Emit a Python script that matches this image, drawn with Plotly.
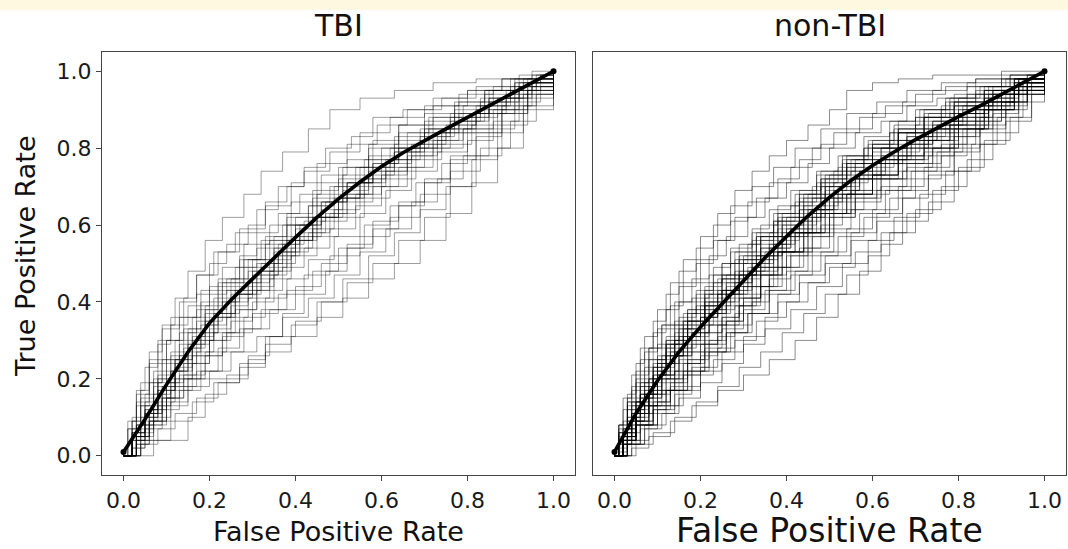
import plotly.graph_objects as go

# ---------------- data ----------------
tick_vals = [0.0, 0.2, 0.4, 0.6, 0.8, 1.0]
tick_text = ["0.0", "0.2", "0.4", "0.6", "0.8", "1.0"]
panel_titles = ["TBI", "non-TBI"]

# mean ROC curves
tbi_mean_fpr = [0, .05, .1, .15, .2, .25, .3, .35, .4, .45, .5, .55, .6, .65, .7, .75, .8, .85, .9, .95, 1]
tbi_mean_tpr = [.01, .095, .185, .27, .345, .405, .46, .515, .568, .62, .668, .712, .752, .788, .82, .85, .88, .91, .94, .97, 1]
non_mean_fpr = [0, .05, .1, .15, .2, .25, .3, .35, .4, .45, .5, .55, .6, .65, .7, .75, .8, .85, .9, .95, 1]
non_mean_tpr = [.01, .11, .195, .27, .335, .395, .455, .515, .57, .624, .672, .716, .755, .79, .822, .853, .882, .91, .94, .97, 1]

# individual ROC curves, TBI
tbi_fpr = [
    [0, .02, .04, .06, .09, .12, .15, .19, .23, .28, .32, .37, .43, .48, .55, .63, .72, .82, .92, 1],
    [0, .03, .05, .08, .10, .13, .17, .20, .24, .29, .33, .38, .42, .47, .53, .58, .65, .72, .80, .88, .95, 1],
    [0, .02, .05, .07, .11, .14, .18, .22, .27, .31, .36, .41, .46, .52, .58, .64, .70, .77, .84, .91, .97, 1],
    [0, .03, .06, .09, .12, .16, .19, .23, .28, .33, .38, .43, .48, .54, .60, .66, .72, .79, .86, .93, 1],
    [0, .02, .05, .08, .11, .15, .19, .24, .29, .34, .39, .44, .49, .55, .61, .67, .73, .80, .87, .94, 1],
    [0, .04, .07, .10, .14, .17, .21, .25, .30, .36, .41, .47, .52, .57, .63, .69, .75, .82, .89, .95, 1],
    [0, .03, .06, .09, .13, .17, .21, .26, .31, .37, .42, .48, .54, .60, .66, .72, .79, .85, .92, 1],
    [0, .02, .05, .09, .13, .18, .22, .27, .32, .38, .44, .50, .56, .62, .68, .74, .80, .86, .92, .97, 1],
    [0, .04, .08, .12, .17, .22, .27, .33, .39, .45, .51, .57, .63, .69, .75, .81, .87, .93, 1],
    [0, .03, .05, .08, .29, .33, .37, .42, .47, .52, .58, .64, .70, .76, .82, .88, .94, 1],
    [0, .02, .15, .19, .24, .29, .34, .40, .46, .52, .58, .64, .70, .76, .82, .88, .94, 1],
    [0, .07, .11, .16, .21, .27, .33, .39, .45, .51, .57, .63, .69, .75, .81, .87, .93, 1],
    [0, .01, .03, .05, .08, .11, .15, .20, .26, .31, .37, .43, .49, .55, .62, .69, .76, .83, .90, .96, 1],
    [0, .03, .07, .11, .16, .20, .25, .30, .35, .38, .44, .50, .56, .61, .67, .74, .81, .88, .94, 1],
    [0, .02, .04, .07, .10, .14, .18, .23, .28, .34, .39, .45, .51, .57, .64, .71, .78, .85, .92, 1],
    [0, .03, .06, .10, .15, .20, .25, .31, .37, .43, .49, .55, .61, .67, .73, .79, .85, .91, .96, 1],
    [0, .02, .06, .09, .12, .16, .21, .26, .31, .36, .41, .46, .52, .58, .64, .70, .76, .82, .89, .95, 1],
    [0, .02, .04, .06, .08, .11, .14, .17, .21, .26, .31, .36, .42, .48, .55, .62, .70, .78, .86, .94, 1],
    [0, .02, .04, .08, .12, .17, .23, .28, .34, .40, .46, .52, .58, .64, .70, .76, .82, .88, .94, 1],
    [0, .03, .05, .08, .12, .15, .19, .24, .29, .35, .40, .46, .51, .57, .63, .70, .77, .84, .91, .97, 1],
    [0, .01, .03, .06, .09, .13, .17, .22, .27, .33, .39, .45, .52, .59, .66, .74, .82, .90, 1],
    [0, .04, .07, .10, .13, .18, .22, .27, .32, .37, .43, .48, .54, .60, .66, .72, .78, .85, .92, 1],
    [0, .03, .06, .10, .14, .19, .24, .30, .36, .42, .48, .55, .62, .69, .76, .83, .90, .96, 1],
    [0, .02, .05, .08, .11, .15, .19, .23, .28, .33, .38, .44, .50, .56, .63, .70, .77, .85, .93, 1],
    [0, .02, .04, .07, .10, .13, .17, .21, .25, .30, .35, .40, .45, .51, .57, .63, .70, .77, .84, .91, .97, 1],
    [0, .03, .05, .08, .12, .15, .19, .23, .27, .32, .37, .42, .47, .52, .58, .64, .70, .76, .83, .90, .96, 1],
    [0, .02, .05, .09, .12, .16, .20, .25, .29, .34, .39, .44, .49, .55, .61, .67, .73, .79, .86, .93, 1],
    [0, .03, .06, .09, .13, .17, .22, .27, .32, .38, .44, .50, .57, .64, .72, .80, .88, .95, 1],
    [0, .02, .04, .06, .09, .12, .15, .18, .22, .26, .30, .35, .40, .45, .50, .56, .62, .68, .75, .82, .89, .95, 1],
    [0, .01, .03, .06, .09, .12, .16, .20, .24, .29, .34, .39, .45, .51, .57, .63, .69, .76, .83, .90, .96, 1],
    [0, .04, .07, .11, .15, .19, .23, .27, .31, .35, .40, .45, .50, .55, .60, .66, .72, .78, .85, .92, 1],
    [0, .02, .04, .07, .10, .14, .18, .22, .26, .31, .36, .41, .46, .52, .58, .64, .71, .78, .85, .92, 1],
    [0, .03, .06, .10, .14, .18, .23, .28, .33, .38, .43, .49, .55, .61, .67, .73, .80, .87, .94, 1],
    [0, .03, .07, .11, .16, .21, .26, .32, .38, .44, .51, .58, .66, .74, .82, .91, 1],
    [0, .02, .05, .08, .12, .16, .20, .25, .30, .35, .40, .46, .52, .58, .64, .70, .77, .84, .91, 1],
    [0, .02, .05, .08, .11, .15, .20, .24, .29, .34, .39, .45, .50, .56, .62, .68, .74, .81, .88, .95, 1],
]
tbi_tpr = [
    [0, .10, .19, .27, .34, .41, .48, .56, .62, .68, .74, .79, .85, .90, .93, .95, .97, .98, .99, 1],
    [0, .08, .16, .24, .30, .36, .42, .50, .55, .60, .66, .70, .75, .80, .83, .88, .90, .93, .95, .98, 1, 1],
    [0, .06, .13, .20, .26, .33, .40, .46, .52, .58, .63, .68, .73, .77, .82, .86, .89, .92, .95, .97, .99, 1],
    [0, .05, .12, .18, .25, .31, .37, .43, .49, .55, .60, .65, .70, .75, .80, .84, .88, .91, .95, .98, 1],
    [0, .04, .10, .16, .22, .28, .34, .40, .45, .51, .56, .62, .67, .71, .76, .80, .84, .88, .93, .97, 1],
    [0, .07, .12, .19, .24, .31, .36, .41, .47, .53, .58, .63, .68, .73, .77, .82, .86, .90, .94, .97, 1],
    [0, .03, .09, .15, .21, .27, .32, .38, .43, .49, .54, .59, .65, .70, .75, .80, .85, .90, .95, 1],
    [0, .02, .07, .12, .17, .22, .28, .33, .38, .43, .48, .54, .60, .65, .71, .76, .82, .87, .92, .96, 1],
    [0, .03, .07, .11, .15, .19, .24, .29, .34, .40, .46, .52, .58, .64, .70, .77, .84, .91, 1],
    [0, .06, .12, .20, .25, .31, .37, .42, .48, .54, .59, .65, .71, .77, .83, .89, .95, 1],
    [0, .04, .10, .16, .21, .26, .31, .35, .40, .45, .50, .56, .62, .70, .78, .86, .93, 1],
    [0, .04, .09, .14, .19, .23, .27, .31, .36, .41, .46, .50, .56, .63, .71, .80, .90, 1],
    [0, .09, .17, .23, .29, .34, .39, .44, .49, .54, .60, .65, .70, .75, .80, .85, .89, .93, .96, .98, 1],
    [0, .05, .10, .17, .24, .30, .35, .40, .47, .56, .62, .67, .72, .77, .81, .85, .89, .93, .97, 1],
    [0, .07, .15, .22, .30, .36, .43, .49, .55, .60, .66, .71, .75, .80, .84, .88, .92, .95, .98, 1],
    [0, .03, .08, .13, .18, .22, .27, .31, .36, .41, .47, .53, .59, .66, .72, .78, .85, .91, .96, 1],
    [0, .05, .11, .18, .25, .30, .36, .42, .47, .52, .57, .61, .66, .70, .75, .80, .86, .91, .95, .98, 1],
    [0, .09, .17, .24, .30, .36, .41, .47, .53, .58, .64, .70, .74, .79, .84, .88, .91, .94, .96, .98, 1],
    [0, .05, .10, .14, .18, .22, .27, .33, .38, .44, .50, .55, .61, .66, .72, .78, .84, .90, .95, 1],
    [0, .04, .11, .19, .25, .32, .38, .43, .48, .53, .59, .64, .69, .74, .79, .83, .87, .91, .95, .98, 1],
    [0, .07, .16, .25, .33, .40, .47, .53, .59, .65, .71, .76, .81, .86, .90, .93, .96, .98, 1],
    [0, .06, .13, .19, .26, .32, .37, .42, .48, .53, .58, .63, .68, .73, .78, .82, .87, .92, .96, 1],
    [0, .04, .09, .15, .21, .27, .32, .37, .42, .47, .52, .57, .62, .68, .74, .80, .87, .94, 1],
    [0, .06, .14, .21, .27, .33, .39, .45, .51, .57, .62, .67, .72, .77, .81, .85, .89, .93, .97, 1],
    [0, .09, .13, .18, .24, .29, .35, .41, .46, .51, .57, .62, .68, .73, .78, .83, .87, .91, .95, .98, .99, 1],
    [0, .08, .12, .17, .24, .29, .35, .40, .45, .50, .55, .61, .66, .71, .76, .80, .84, .88, .92, .96, .99, 1],
    [0, .02, .08, .15, .20, .26, .33, .39, .43, .48, .54, .59, .64, .70, .74, .78, .82, .85, .90, .94, 1],
    [0, .14, .19, .25, .32, .38, .45, .51, .56, .63, .69, .75, .81, .86, .91, .95, .98, .99, 1],
    [0, .04, .08, .11, .17, .22, .27, .32, .37, .42, .46, .52, .57, .62, .67, .72, .77, .81, .85, .89, .93, .97, 1],
    [0, .07, .13, .19, .25, .30, .36, .42, .46, .51, .56, .60, .66, .71, .75, .79, .83, .87, .91, .95, .98, 1],
    [0, .04, .09, .14, .20, .26, .32, .38, .44, .50, .56, .62, .67, .71, .75, .80, .84, .88, .92, .96, 1],
    [0, .06, .10, .16, .22, .28, .34, .40, .44, .50, .55, .60, .66, .71, .76, .80, .85, .89, .93, .97, 1],
    [0, .05, .09, .15, .20, .26, .31, .36, .41, .46, .51, .57, .63, .69, .74, .79, .84, .89, .95, 1],
    [0, .08, .15, .22, .30, .37, .43, .49, .56, .62, .68, .74, .79, .84, .89, .94, 1],
    [0, .05, .11, .17, .23, .29, .36, .42, .48, .54, .60, .66, .71, .77, .82, .86, .90, .94, .97, 1],
    [0, .05, .09, .13, .18, .24, .30, .36, .41, .46, .52, .57, .62, .67, .72, .77, .81, .86, .91, .96, 1],
]

# individual ROC curves, non-TBI
non_fpr = [
    [0, .01, .03, .05, .07, .10, .13, .16, .20, .24, .28, .32, .36, .40, .45, .50, .54, .60, .66, .74, .82, .90, 1],
    [0, .02, .04, .06, .09, .12, .15, .19, .23, .27, .31, .36, .41, .46, .51, .57, .63, .70, .77, .84, .92, 1],
    [0, .01, .03, .06, .08, .11, .14, .18, .22, .26, .31, .35, .40, .45, .50, .56, .62, .68, .75, .82, .90, .96, 1],
    [0, .02, .04, .07, .10, .13, .17, .21, .25, .29, .34, .38, .43, .48, .53, .59, .65, .71, .78, .85, .92, 1],
    [0, .02, .05, .07, .10, .14, .17, .21, .25, .30, .34, .39, .44, .49, .54, .60, .66, .72, .79, .86, .93, 1],
    [0, .03, .05, .08, .11, .15, .19, .23, .27, .32, .37, .42, .47, .52, .57, .63, .69, .75, .81, .88, .94, 1],
    [0, .01, .04, .06, .09, .12, .16, .20, .24, .28, .33, .38, .43, .48, .53, .59, .65, .71, .77, .84, .91, .97, 1],
    [0, .02, .05, .08, .12, .16, .20, .24, .29, .34, .39, .44, .50, .55, .61, .67, .73, .79, .85, .91, .96, 1],
    [0, .03, .06, .10, .14, .18, .23, .28, .33, .38, .43, .49, .55, .61, .67, .73, .79, .85, .91, .96, 1],
    [0, .04, .08, .13, .18, .24, .30, .36, .42, .47, .52, .57, .62, .67, .73, .79, .85, .91, .97, 1],
    [0, .02, .06, .10, .15, .20, .25, .30, .35, .40, .45, .50, .56, .62, .68, .74, .80, .86, .92, .97, 1],
    [0, .01, .02, .04, .07, .10, .14, .18, .22, .27, .32, .37, .42, .47, .53, .59, .65, .72, .79, .86, .93, 1],
    [0, .02, .04, .07, .11, .15, .18, .22, .26, .31, .35, .40, .45, .51, .56, .62, .68, .74, .80, .86, .93, 1],
    [0, .02, .04, .06, .09, .12, .16, .19, .23, .27, .32, .36, .41, .47, .52, .58, .64, .70, .77, .84, .91, 1],
    [0, .03, .05, .09, .13, .17, .21, .26, .31, .36, .41, .46, .52, .58, .64, .70, .76, .82, .88, .94, 1],
    [0, .01, .03, .05, .07, .10, .13, .16, .20, .24, .28, .33, .38, .43, .48, .54, .60, .67, .74, .82, .90, 1],
    [0, .03, .07, .11, .15, .20, .25, .30, .35, .41, .47, .53, .59, .65, .71, .77, .83, .89, .95, 1],
    [0, .02, .04, .07, .10, .13, .17, .21, .26, .31, .36, .41, .46, .51, .57, .63, .69, .75, .82, .89, .95, 1],
    [0, .01, .03, .06, .09, .12, .15, .19, .23, .27, .32, .37, .42, .47, .52, .58, .64, .70, .77, .84, .92, 1],
    [0, .02, .05, .09, .13, .17, .21, .25, .30, .35, .40, .45, .51, .57, .63, .69, .75, .81, .87, .93, 1],
    [0, .04, .08, .12, .16, .20, .24, .28, .32, .36, .41, .46, .51, .56, .61, .67, .73, .79, .86, .93, 1],
    [0, .01, .03, .05, .08, .11, .15, .20, .25, .31, .37, .43, .49, .55, .61, .67, .73, .80, .87, .94, 1],
    [0, .02, .05, .08, .11, .14, .18, .22, .27, .32, .37, .42, .48, .54, .60, .66, .72, .78, .85, .92, 1],
    [0, .01, .02, .04, .06, .09, .12, .15, .19, .23, .27, .32, .37, .42, .48, .54, .61, .68, .76, .84, .92, 1],
    [0, .03, .06, .09, .13, .17, .22, .27, .32, .38, .43, .49, .55, .61, .67, .73, .79, .85, .91, .96, 1],
    [0, .03, .07, .10, .14, .18, .22, .26, .30, .34, .38, .42, .47, .52, .57, .62, .68, .74, .81, .88, .95, 1],
    [0, .01, .03, .05, .08, .12, .16, .21, .26, .32, .38, .44, .50, .56, .62, .68, .74, .80, .86, .92, .97, 1],
    [0, .02, .04, .06, .09, .13, .16, .20, .24, .29, .34, .39, .44, .49, .55, .60, .66, .73, .80, .87, .94, 1],
    [0, .02, .05, .09, .12, .16, .21, .26, .31, .36, .42, .48, .54, .60, .66, .72, .78, .84, .90, .96, 1],
    [0, .02, .03, .06, .09, .12, .15, .19, .23, .28, .33, .38, .43, .48, .54, .60, .66, .73, .80, .87, .94, 1],
    [0, .05, .09, .14, .19, .24, .29, .34, .39, .44, .49, .54, .59, .64, .70, .76, .82, .88, .94, 1],
    [0, .01, .04, .06, .09, .12, .16, .20, .24, .28, .33, .38, .43, .48, .54, .60, .66, .72, .79, .86, .93, 1],
    [0, .02, .04, .06, .09, .12, .15, .18, .22, .26, .30, .34, .38, .43, .48, .53, .58, .64, .70, .76, .82, .88, .94, 1],
    [0, .01, .03, .05, .08, .11, .14, .17, .21, .25, .29, .33, .37, .41, .46, .51, .56, .62, .68, .74, .80, .87, .93, 1],
    [0, .03, .05, .08, .10, .13, .16, .20, .24, .28, .32, .36, .40, .45, .50, .55, .60, .66, .72, .78, .84, .90, .96, 1],
    [0, .02, .05, .07, .10, .14, .17, .21, .25, .29, .34, .39, .44, .49, .54, .60, .66, .72, .79, .86, .93, 1],
    [0, .02, .04, .06, .09, .12, .15, .18, .22, .26, .30, .34, .38, .43, .48, .53, .58, .64, .70, .76, .82, .88, .94, 1],
    [0, .01, .03, .05, .08, .11, .14, .17, .21, .25, .29, .33, .37, .41, .46, .51, .56, .62, .68, .74, .80, .87, .93, 1],
    [0, .03, .05, .08, .10, .13, .16, .20, .24, .28, .32, .36, .40, .45, .50, .55, .60, .66, .72, .78, .84, .90, .96, 1],
    [0, .02, .05, .07, .10, .14, .17, .21, .25, .29, .34, .39, .44, .49, .54, .60, .66, .72, .79, .86, .93, 1],
    [0, .02, .04, .06, .09, .12, .15, .18, .22, .26, .30, .34, .38, .43, .48, .53, .58, .64, .70, .76, .82, .88, .94, 1],
    [0, .01, .03, .05, .08, .11, .14, .17, .21, .25, .29, .33, .37, .41, .46, .51, .56, .62, .68, .74, .80, .87, .93, 1],
    [0, .03, .05, .08, .10, .13, .16, .20, .24, .28, .32, .36, .40, .45, .50, .55, .60, .66, .72, .78, .84, .90, .96, 1],
    [0, .02, .05, .07, .10, .14, .17, .21, .25, .29, .34, .39, .44, .49, .54, .60, .66, .72, .79, .86, .93, 1],
    [0, .02, .04, .06, .09, .12, .15, .18, .22, .26, .30, .34, .38, .43, .48, .53, .58, .64, .70, .76, .82, .88, .94, 1],
    [0, .01, .03, .05, .08, .11, .14, .17, .21, .25, .29, .33, .37, .41, .46, .51, .56, .62, .68, .74, .80, .87, .93, 1],
    [0, .02, .05, .07, .10, .14, .17, .21, .25, .29, .34, .39, .44, .49, .54, .60, .66, .72, .79, .86, .93, 1],
    [0, .02, .04, .06, .09, .12, .15, .18, .22, .26, .30, .34, .38, .43, .48, .53, .58, .64, .70, .76, .82, .88, .94, 1],
    [0, .03, .05, .08, .10, .13, .16, .20, .24, .28, .32, .36, .40, .45, .50, .55, .60, .66, .72, .78, .84, .90, .96, 1],
    [0, .01, .03, .05, .08, .11, .14, .17, .21, .25, .29, .33, .37, .41, .46, .51, .56, .62, .68, .74, .80, .87, .93, 1],
    [0, .03, .05, .08, .10, .13, .16, .20, .24, .28, .32, .36, .40, .45, .50, .55, .60, .66, .72, .78, .84, .90, .96, 1],
    [0, .02, .05, .07, .10, .14, .17, .21, .25, .29, .34, .39, .44, .49, .54, .60, .66, .72, .79, .86, .93, 1],
]
non_tpr = [
    [0, .08, .16, .24, .31, .38, .45, .51, .57, .63, .69, .74, .78, .82, .86, .90, .95, .97, .98, .99, .99, 1, 1],
    [0, .09, .17, .25, .32, .38, .44, .50, .56, .61, .66, .71, .75, .80, .84, .88, .91, .94, .96, .98, .99, 1],
    [0, .06, .14, .21, .28, .34, .40, .46, .52, .57, .62, .67, .71, .76, .80, .84, .87, .91, .93, .96, .98, .99, 1],
    [0, .07, .14, .20, .26, .33, .38, .44, .50, .55, .60, .65, .69, .74, .78, .82, .86, .90, .93, .96, .98, 1],
    [0, .06, .12, .18, .24, .30, .35, .41, .46, .51, .57, .62, .67, .72, .76, .80, .84, .88, .92, .95, .98, 1],
    [0, .05, .11, .17, .22, .28, .34, .39, .45, .50, .55, .60, .65, .70, .74, .78, .82, .86, .90, .94, .97, 1],
    [0, .04, .10, .16, .21, .26, .31, .36, .42, .47, .52, .57, .62, .66, .71, .75, .79, .83, .87, .91, .95, .98, 1],
    [0, .04, .09, .14, .19, .24, .29, .34, .39, .44, .49, .54, .59, .64, .69, .74, .78, .83, .88, .92, .96, 1],
    [0, .03, .07, .11, .16, .21, .25, .30, .35, .40, .45, .50, .56, .61, .67, .73, .79, .85, .90, .95, 1],
    [0, .02, .05, .09, .13, .17, .21, .25, .30, .36, .42, .48, .55, .61, .66, .74, .81, .87, .94, 1],
    [0, .03, .08, .13, .17, .22, .27, .31, .36, .40, .45, .49, .53, .58, .63, .69, .75, .82, .88, .94, 1],
    [0, .06, .12, .18, .23, .29, .35, .41, .47, .53, .58, .63, .68, .73, .77, .81, .85, .89, .92, .95, .98, 1],
    [0, .05, .10, .15, .21, .26, .32, .37, .42, .48, .53, .58, .63, .67, .72, .77, .81, .85, .89, .93, .97, 1],
    [0, .07, .13, .19, .25, .31, .37, .43, .49, .54, .59, .64, .69, .74, .78, .83, .87, .90, .93, .96, .98, 1],
    [0, .04, .08, .12, .17, .22, .27, .32, .37, .42, .47, .52, .57, .62, .67, .72, .78, .84, .89, .95, 1],
    [0, .07, .14, .20, .27, .33, .39, .45, .51, .56, .62, .67, .72, .77, .81, .85, .89, .92, .95, .97, .99, 1],
    [0, .03, .07, .11, .15, .19, .24, .29, .33, .38, .44, .50, .56, .62, .68, .74, .81, .88, .94, 1],
    [0, .05, .11, .16, .22, .27, .33, .38, .43, .49, .54, .59, .64, .69, .73, .77, .82, .86, .90, .94, .97, 1],
    [0, .04, .10, .16, .22, .28, .34, .39, .45, .50, .56, .61, .66, .71, .75, .80, .84, .88, .92, .95, .98, 1],
    [0, .05, .09, .14, .19, .24, .28, .33, .38, .43, .48, .53, .58, .63, .69, .74, .79, .85, .90, .95, 1],
    [0, .04, .08, .13, .18, .23, .28, .34, .40, .46, .52, .57, .62, .67, .72, .77, .82, .87, .92, .96, 1],
    [0, .08, .15, .22, .28, .34, .40, .45, .50, .55, .60, .64, .68, .72, .76, .80, .84, .88, .92, .96, 1],
    [0, .04, .10, .15, .20, .26, .31, .37, .42, .47, .53, .58, .63, .68, .73, .78, .82, .86, .91, .95, 1],
    [0, .08, .15, .21, .28, .35, .42, .48, .54, .60, .65, .70, .75, .80, .85, .89, .92, .95, .97, .98, .99, 1],
    [0, .04, .08, .13, .17, .22, .27, .32, .37, .42, .47, .52, .58, .63, .69, .74, .80, .86, .91, .96, 1],
    [0, .03, .08, .12, .17, .23, .29, .35, .41, .47, .53, .58, .64, .69, .74, .78, .83, .87, .91, .95, .98, 1],
    [0, .06, .13, .19, .25, .30, .35, .40, .44, .49, .53, .57, .62, .66, .70, .75, .80, .85, .90, .94, .97, 1],
    [0, .03, .09, .15, .20, .26, .31, .36, .42, .47, .52, .57, .62, .67, .72, .76, .81, .85, .89, .93, .97, 1],
    [0, .03, .08, .12, .17, .22, .27, .32, .37, .43, .48, .53, .59, .64, .70, .75, .81, .87, .92, .97, 1],
    [0, .06, .12, .18, .24, .30, .36, .42, .47, .53, .58, .63, .68, .72, .77, .81, .85, .89, .93, .96, .98, 1],
    [0, .03, .06, .10, .14, .18, .23, .27, .32, .37, .42, .47, .52, .58, .64, .70, .77, .84, .92, 1],
    [0, .05, .11, .17, .23, .29, .35, .40, .46, .51, .57, .62, .67, .71, .76, .80, .84, .88, .91, .95, .98, 1],
    [0, .06, .12, .16, .23, .29, .33, .37, .42, .47, .52, .56, .61, .66, .72, .76, .80, .84, .88, .91, .94, .96, .98, 1],
    [0, .03, .08, .13, .18, .24, .29, .33, .38, .43, .47, .52, .57, .61, .67, .71, .76, .80, .84, .87, .90, .94, .97, 1],
    [0, .07, .11, .16, .20, .24, .29, .34, .38, .43, .48, .53, .57, .63, .68, .72, .76, .80, .83, .87, .90, .94, .98, 1],
    [0, .04, .09, .13, .17, .22, .27, .32, .36, .41, .47, .53, .58, .63, .68, .73, .77, .80, .85, .90, .95, 1],
    [0, .05, .09, .13, .19, .24, .28, .32, .37, .42, .47, .51, .56, .61, .67, .72, .76, .80, .84, .88, .91, .94, .97, 1],
    [0, .01, .05, .08, .13, .17, .20, .25, .30, .35, .39, .44, .49, .53, .58, .63, .67, .72, .76, .80, .85, .90, .94, 1],
    [0, .09, .14, .20, .24, .29, .33, .39, .43, .48, .53, .58, .62, .68, .73, .77, .81, .85, .88, .92, .94, .97, .99, 1],
    [0, .05, .12, .16, .21, .27, .32, .37, .41, .46, .52, .58, .63, .69, .73, .77, .82, .85, .89, .93, .96, 1],
    [0, .04, .08, .11, .16, .20, .25, .29, .34, .39, .44, .48, .53, .58, .64, .68, .72, .76, .80, .84, .88, .92, .96, 1],
    [0, .04, .10, .15, .22, .28, .34, .38, .43, .47, .52, .57, .61, .65, .70, .74, .77, .80, .83, .86, .89, .92, .96, 1],
    [0, .04, .08, .11, .14, .18, .21, .26, .31, .37, .42, .47, .52, .58, .63, .69, .73, .78, .82, .86, .90, .94, .98, 1],
    [0, .06, .14, .19, .25, .32, .37, .42, .46, .51, .57, .63, .68, .73, .78, .82, .87, .90, .94, .96, .98, 1],
    [0, .03, .06, .09, .13, .17, .21, .25, .30, .35, .40, .44, .49, .54, .60, .64, .68, .72, .76, .81, .85, .90, .95, 1],
    [0, .02, .07, .11, .16, .21, .26, .30, .35, .40, .44, .49, .54, .58, .64, .68, .73, .77, .81, .85, .88, .92, .96, 1],
    [0, .04, .09, .13, .17, .22, .27, .32, .36, .41, .47, .53, .58, .63, .68, .73, .77, .80, .85, .90, .95, 1],
    [0, .06, .11, .15, .21, .27, .31, .35, .40, .45, .50, .54, .59, .64, .70, .74, .78, .82, .86, .90, .92, .95, .98, 1],
    [0, .07, .12, .17, .21, .26, .30, .36, .40, .45, .50, .55, .59, .64, .70, .74, .77, .82, .85, .89, .92, .95, .98, 1],
    [0, .03, .09, .14, .20, .26, .30, .35, .39, .43, .47, .51, .55, .58, .62, .66, .69, .74, .78, .82, .86, .91, .95, 1],
    [0, .05, .09, .13, .16, .20, .24, .29, .34, .39, .44, .49, .53, .59, .63, .68, .72, .76, .79, .83, .87, .92, .97, 1],
    [0, .05, .13, .17, .23, .29, .34, .39, .43, .48, .54, .60, .65, .70, .75, .79, .84, .87, .91, .94, .97, 1],
]

# ---------------- figure ----------------
FONT = "DejaVu Sans"
W, H = 1068, 549
ML, MR, MT, MB = 102, 2, 52, 74
PW = W - ML - MR
PH = H - MT - MB

fig = go.Figure()


def add_panel(fprs, tprs, mfpr, mtpr, xa, ya, line):
    for fx, ty in zip(fprs, tprs):
        fig.add_trace(go.Scatter(x=fx, y=ty, mode="lines", line=line,
                                 xaxis=xa, yaxis=ya, hoverinfo="skip", showlegend=False))
    fig.add_trace(go.Scatter(x=mfpr, y=mtpr, mode="lines",
                             line=dict(color="black", width=3.6),
                             xaxis=xa, yaxis=ya, showlegend=False))
    fig.add_trace(go.Scatter(x=[mfpr[0], mfpr[-1]], y=[mtpr[0], mtpr[-1]], mode="markers",
                             marker=dict(color="black", size=6),
                             xaxis=xa, yaxis=ya, showlegend=False))


add_panel(tbi_fpr, tbi_tpr, tbi_mean_fpr, tbi_mean_tpr, "x", "y",
          dict(color="rgba(0,0,0,0.38)", width=1, shape="hv"))
add_panel(non_fpr, non_tpr, non_mean_fpr, non_mean_tpr, "x2", "y2",
          dict(color="rgba(0,0,0,0.45)", width=1, shape="hv"))

d1 = [0, 473 / PW]
d2 = [491 / PW, 1]

axis_common = dict(range=[-0.05, 1.05], tickvals=tick_vals, ticktext=tick_text,
                   showgrid=False, zeroline=False, showline=True, mirror=True,
                   linecolor="#444444", linewidth=1.3, ticks="outside", ticklen=5,
                   tickcolor="#444444", tickwidth=1.2,
                   tickfont=dict(family=FONT, size=22, color="#1a1a1a"))

fig.update_layout(
    width=W, height=H,
    margin=dict(l=ML, r=MR, t=MT, b=MB, pad=0),
    paper_bgcolor="white", plot_bgcolor="white",
    font=dict(family=FONT, color="#1a1a1a"),
    xaxis=dict(domain=d1, anchor="y", **axis_common),
    yaxis=dict(domain=[0, 1], anchor="x", **axis_common),
    xaxis2=dict(domain=d2, anchor="y2", **axis_common),
    yaxis2=dict(domain=[0, 1], anchor="x2", **{**axis_common, "ticks": "", "showticklabels": False}),
    showlegend=False,
)

# pale band at the very top of the image
fig.add_shape(type="rect", xref="paper", yref="paper",
              x0=-ML / PW, x1=1 + MR / PW, y0=1 + (MT - 10) / PH, y1=1 + MT / PH,
              fillcolor="#FEF8E1", line=dict(width=0), layer="below")


def px_y(py):
    return 1 - (py - MT) / PH


def px_x(px):
    return (px - ML) / PW


# panel titles
for title, dom in zip(panel_titles, [d1, d2]):
    fig.add_annotation(text=title, x=sum(dom) / 2, y=px_y(25), xref="paper", yref="paper",
                       showarrow=False, xanchor="center", yanchor="middle",
                       font=dict(family=FONT, size=30, color="#111111"))

# axis titles
fig.add_annotation(text="False Positive Rate", x=sum(d1) / 2, y=px_y(531), xref="paper", yref="paper",
                   showarrow=False, xanchor="center", yanchor="middle",
                   font=dict(family=FONT, size=27, color="#111111"))
fig.add_annotation(text="False Positive Rate", x=sum(d2) / 2, y=px_y(530), xref="paper", yref="paper",
                   showarrow=False, xanchor="center", yanchor="middle",
                   font=dict(family=FONT, size=33, color="#111111"))
fig.add_annotation(text="True Positive Rate", x=px_x(25), y=px_y(256), xref="paper", yref="paper",
                   showarrow=False, xanchor="center", yanchor="middle", textangle=-90,
                   font=dict(family=FONT, size=27, color="#111111"))

fig.write_html("out.html", config={"displayModeBar": False},
               post_script="document.body.style.margin='0';document.body.style.padding='0';")
